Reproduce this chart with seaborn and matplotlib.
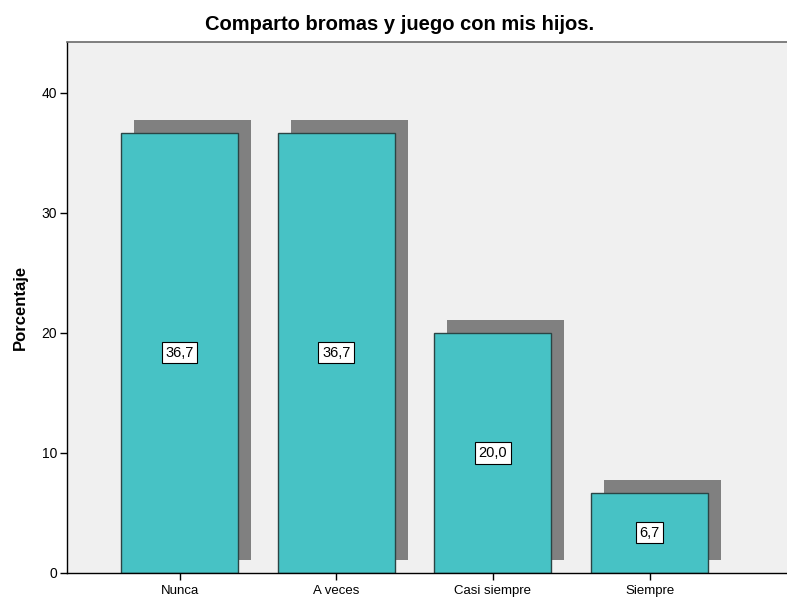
import numpy as np
import pandas as pd
import seaborn as sns
import matplotlib
matplotlib.use("Agg")
import matplotlib.pyplot as plt

# Data
categories = ["Nunca", "A veces", "Casi siempre", "Siempre"]
percentages = [36.7, 36.7, 20.0, 6.7]
y_ticks = [0, 10, 20, 30, 40]

df = pd.DataFrame({"categoria": categories, "porcentaje": percentages})

sns.set_style("white")
plt.rcParams["font.family"] = ["Liberation Sans", "DejaVu Sans"]
plt.rcParams["text.color"] = "black"
plt.rcParams["axes.labelcolor"] = "black"
plt.rcParams["xtick.color"] = "black"
plt.rcParams["ytick.color"] = "black"

fig = plt.figure(figsize=(7.87, 5.99), dpi=100)
ax = fig.add_axes([67 / 787, 1 - 573 / 599, 1 - 67 / 787, (573 - 42) / 599])
ax.set_facecolor("#f0f0f0")

bar_w = 0.747
# drop shadow behind each bar
pos = np.arange(len(categories))
ax.bar(pos + 0.083, df["porcentaje"], bottom=1.08, width=bar_w,
       color="#808080", linewidth=0, zorder=0.5)

sns.barplot(data=df, x="categoria", y="porcentaje", color="#47c2c5",
            saturation=1, width=bar_w, edgecolor="#2b4444", linewidth=1,
            ax=ax, zorder=2)

# value labels in white boxes
for i, v in enumerate(df["porcentaje"]):
    ax.text(i, v / 2, f"{v:.1f}".replace(".", ","), ha="center", va="center",
            fontsize=10.5, zorder=3,
            bbox=dict(boxstyle="square,pad=0.25", fc="white", ec="black", lw=0.8))

ax.set_xlim(-0.718, 3.877)
ax.set_ylim(0, 44.25)
ax.set_yticks(y_ticks)
ax.tick_params(axis="both", which="major", direction="out", length=5, width=1,
               color="black", labelcolor="black", labelsize=10, pad=2,
               bottom=True, left=True)
ax.tick_params(axis="x", pad=3.5, labelsize=9.5)
ax.set_xlabel("")
ax.set_ylabel("Porcentaje", fontsize=12, fontweight="bold", labelpad=10)

for side in ["left", "bottom"]:
    ax.spines[side].set_color("black")
    ax.spines[side].set_linewidth(1)
ax.spines["top"].set_color("#6a6a6a")
ax.spines["top"].set_linewidth(1.2)
ax.spines["right"].set_visible(False)

fig.text(400 / 787, 1 - 25 / 599, "Comparto bromas y juego con mis hijos.",
         ha="center", va="center", fontsize=14.5, fontweight="bold")

fig.savefig("out.png", dpi=100)
